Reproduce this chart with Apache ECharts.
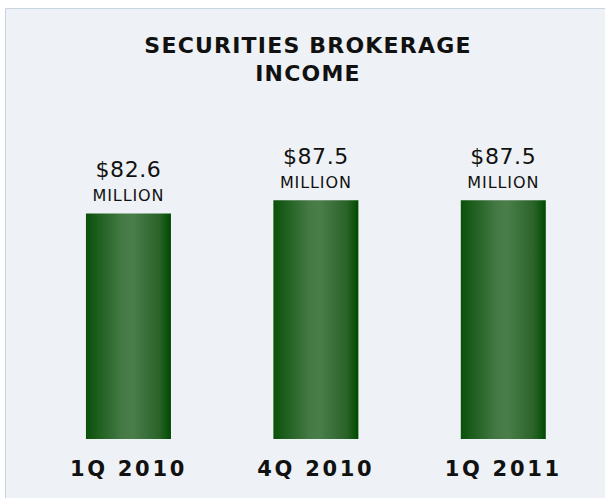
<!DOCTYPE html>
<html>
<head>
<meta charset="utf-8">
<script src="https://cdn.jsdelivr.net/npm/echarts@6/dist/echarts.min.js"></script>
<style>
html,body{margin:0;padding:0;background:#fff;}
#c{width:605px;height:498px;}
</style>
</head>
<body>
<div id="c"></div>
<script>
const categories = ['1Q 2010', '4Q 2010', '1Q 2011'];
const values = [82.6, 87.5, 87.5];
const valueUnit = 'MILLION';
const titleLines = ['SECURITIES BROKERAGE', 'INCOME'];

const chart = echarts.init(document.getElementById('c'), null, {renderer: 'svg'});
const barGradient = new echarts.graphic.LinearGradient(0, 0, 1, 0, [
  {offset: 0, color: '#0a500a'},
  {offset: 0.12, color: '#1b5c1b'},
  {offset: 0.42, color: '#447944'},
  {offset: 0.55, color: '#4a7d4a'},
  {offset: 0.86, color: '#2a6328'},
  {offset: 1, color: '#004a00'}
]);
chart.setOption({
  backgroundColor: '#ffffff',
  animation: false,
  graphic: [{
    type: 'rect', z: -10, silent: true,
    shape: {x: 5.5, y: 8.5, width: 620, height: 510},
    style: {fill: '#eef1f5', stroke: '#c8d5de', lineWidth: 1}
  }, {
    type: 'text', silent: true,
    x: 308, y: 31,
    style: {
      text: titleLines.join('\n'),
      textAlign: 'center',
      textVerticalAlign: 'top',
      font: 'bold 22px "DejaVu Sans"',
      lineHeight: 28,
      fill: '#111'
    }
  }],
  grid: {left: 34.75, right: 8, top: 166, bottom: 59},
  xAxis: {
    type: 'category',
    data: categories,
    axisLine: {show: false},
    axisTick: {show: false},
    axisLabel: {
      margin: 19,
      fontFamily: 'DejaVu Sans',
      fontWeight: 'bold',
      fontSize: 21,
      color: '#111'
    }
  },
  yAxis: {
    type: 'value', min: 0, max: 100,
    show: false,
    splitLine: {show: false}
  },
  series: [{
    type: 'bar',
    data: values,
    barWidth: 85,
    itemStyle: {color: barGradient},
    label: {
      show: true,
      position: 'top',
      distance: 6,
      formatter: p => '{v|$' + p.value.toFixed(1) + '}\n{u|' + valueUnit + '}',
      rich: {
        v: {fontFamily: 'DejaVu Sans', fontSize: 22, color: '#111', lineHeight: 28, align: 'center'},
        u: {fontFamily: 'DejaVu Sans', fontSize: 16, color: '#111', lineHeight: 24, align: 'center'}
      }
    }
  }]
});

// Approximate the reference's letter spacing on the rendered SVG text.
function spaceText() {
  document.querySelectorAll('#c svg text').forEach(t => {
    const s = t.textContent.trim();
    let ls = 0;
    if (categories.includes(s)) ls = 2.7;
    else if (titleLines.includes(s)) ls = 1.2;
    else if (s === valueUnit) ls = 0.9;
    else if (s.startsWith('$')) ls = 0.6;
    if (ls) t.style.letterSpacing = ls + 'px';
  });
}
spaceText();
chart.on('finished', spaceText);
</script>
</body>
</html>
